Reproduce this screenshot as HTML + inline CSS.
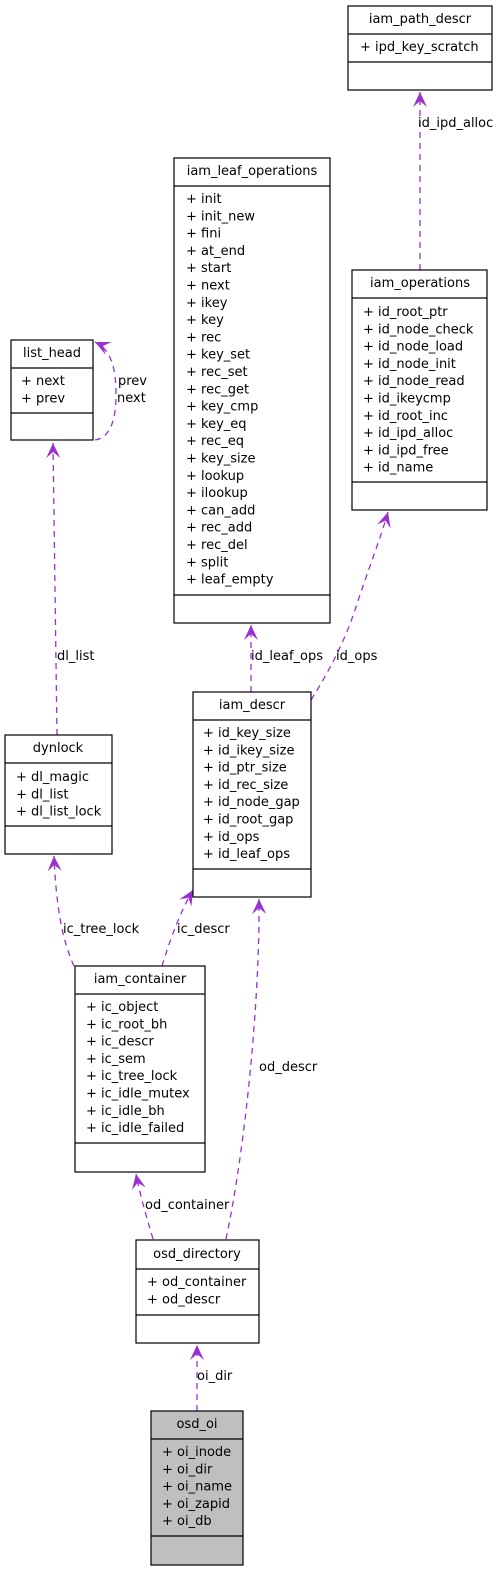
<!DOCTYPE html>
<html><head><meta charset="utf-8"><style>
html,body{margin:0;padding:0;background:#fff}
svg{display:block}
text{font-family:"DejaVu Sans","Liberation Sans",sans-serif;font-size:13px;fill:#000}
.b{fill:#fff;stroke:#000;stroke-width:1.2}
.g{fill:#bfbfbf;stroke:#000;stroke-width:1.2}
.e{fill:none;stroke:#9a32cd;stroke-width:1.3;stroke-dasharray:6,5}
</style></head><body>
<svg width="500" height="1571" viewBox="0 0 500 1571" xmlns="http://www.w3.org/2000/svg">
<defs>
<marker id="v" markerWidth="18" markerHeight="18" refX="15" refY="8" orient="auto" markerUnits="userSpaceOnUse">
<path d="M0,1 L15,8 L0,15 L6,8 Z" fill="#9a32cd"/>
</marker>
</defs>

<path class="e" d="M420,270 L420,92" marker-end="url(#v)"/>
<text x="418" y="127">id_ipd_alloc</text>
<path class="e" d="M251,692 L251,625" marker-end="url(#v)"/>
<text x="251" y="660">id_leaf_ops</text>
<path class="e" d="M311,700 C330,670 345,640 355,610 C368,570 380,540 388,512" marker-end="url(#v)"/>
<text x="336" y="660">id_ops</text>
<path class="e" d="M95,440 C110,438 116,420 116,395 C116,370 112,350 95,342" marker-end="url(#v)"/>
<text x="118" y="385">prev</text>
<text x="117" y="402">next</text>
<path class="e" d="M57,735 L53,443" marker-end="url(#v)"/>
<text x="57" y="660">dl_list</text>
<path class="e" d="M74,966 C62,940 56,905 54,856" marker-end="url(#v)"/>
<text x="63" y="933">ic_tree_lock</text>
<path class="e" d="M162,966 C170,940 180,912 193,890" marker-end="url(#v)"/>
<text x="177" y="933">ic_descr</text>
<path class="e" d="M226,1239 C245,1150 260,1000 259,899" marker-end="url(#v)"/>
<text x="259" y="1071">od_descr</text>
<path class="e" d="M153,1239 C146,1215 140,1195 136,1174" marker-end="url(#v)"/>
<text x="145" y="1209">od_container</text>
<path class="e" d="M197,1411 L197,1345" marker-end="url(#v)"/>
<text x="197" y="1380">oi_dir</text>

<rect class="b" x="348" y="6" width="144" height="84"/>
<line x1="348" y1="34" x2="492" y2="34" stroke="#000" stroke-width="1.2"/>
<line x1="348" y1="62" x2="492" y2="62" stroke="#000" stroke-width="1.2"/>
<text x="420" y="23" text-anchor="middle">iam_path_descr</text>
<text x="360" y="51">+ ipd_key_scratch</text>

<rect class="b" x="174" y="158" width="156" height="465"/>
<line x1="174" y1="186" x2="330" y2="186" stroke="#000" stroke-width="1.2"/>
<line x1="174" y1="595" x2="330" y2="595" stroke="#000" stroke-width="1.2"/>
<text x="252" y="175" text-anchor="middle">iam_leaf_operations</text>
<g transform="translate(186,0)">
<text y="203">+ init</text>
<text y="220.3">+ init_new</text>
<text y="237.6">+ fini</text>
<text y="254.9">+ at_end</text>
<text y="272.2">+ start</text>
<text y="289.5">+ next</text>
<text y="306.8">+ ikey</text>
<text y="324.1">+ key</text>
<text y="341.4">+ rec</text>
<text y="358.7">+ key_set</text>
<text y="376">+ rec_set</text>
<text y="393.3">+ rec_get</text>
<text y="410.6">+ key_cmp</text>
<text y="427.9">+ key_eq</text>
<text y="445.2">+ rec_eq</text>
<text y="462.5">+ key_size</text>
<text y="479.8">+ lookup</text>
<text y="497.1">+ ilookup</text>
<text y="514.4">+ can_add</text>
<text y="531.7">+ rec_add</text>
<text y="549">+ rec_del</text>
<text y="566.3">+ split</text>
<text y="583.6">+ leaf_empty</text>
</g>

<rect class="b" x="352" y="270" width="135" height="240"/>
<line x1="352" y1="298" x2="487" y2="298" stroke="#000" stroke-width="1.2"/>
<line x1="352" y1="482" x2="487" y2="482" stroke="#000" stroke-width="1.2"/>
<text x="420" y="287" text-anchor="middle">iam_operations</text>
<g transform="translate(363,0)">
<text y="316">+ id_root_ptr</text>
<text y="333.3">+ id_node_check</text>
<text y="350.6">+ id_node_load</text>
<text y="367.9">+ id_node_init</text>
<text y="385.2">+ id_node_read</text>
<text y="402.5">+ id_ikeycmp</text>
<text y="419.8">+ id_root_inc</text>
<text y="437.1">+ id_ipd_alloc</text>
<text y="454.4">+ id_ipd_free</text>
<text y="471.7">+ id_name</text>
</g>

<rect class="b" x="11" y="340" width="82" height="100"/>
<line x1="11" y1="368" x2="93" y2="368" stroke="#000" stroke-width="1.2"/>
<line x1="11" y1="413" x2="93" y2="413" stroke="#000" stroke-width="1.2"/>
<text x="52" y="357" text-anchor="middle">list_head</text>
<text x="21" y="385">+ next</text>
<text x="21" y="402.3">+ prev</text>

<rect class="b" x="5" y="735" width="107" height="119"/>
<line x1="5" y1="763" x2="112" y2="763" stroke="#000" stroke-width="1.2"/>
<line x1="5" y1="826" x2="112" y2="826" stroke="#000" stroke-width="1.2"/>
<text x="58" y="752" text-anchor="middle">dynlock</text>
<text x="16" y="781">+ dl_magic</text>
<text x="16" y="798.3">+ dl_list</text>
<text x="16" y="815.6">+ dl_list_lock</text>

<rect class="b" x="193" y="692" width="118" height="205"/>
<line x1="193" y1="720" x2="311" y2="720" stroke="#000" stroke-width="1.2"/>
<line x1="193" y1="869" x2="311" y2="869" stroke="#000" stroke-width="1.2"/>
<text x="252" y="709" text-anchor="middle">iam_descr</text>
<g transform="translate(203,0)">
<text y="737">+ id_key_size</text>
<text y="754.3">+ id_ikey_size</text>
<text y="771.6">+ id_ptr_size</text>
<text y="788.9">+ id_rec_size</text>
<text y="806.2">+ id_node_gap</text>
<text y="823.5">+ id_root_gap</text>
<text y="840.8">+ id_ops</text>
<text y="858.1">+ id_leaf_ops</text>
</g>

<rect class="b" x="75" y="966" width="130" height="206"/>
<line x1="75" y1="994" x2="205" y2="994" stroke="#000" stroke-width="1.2"/>
<line x1="75" y1="1143" x2="205" y2="1143" stroke="#000" stroke-width="1.2"/>
<text x="140" y="983" text-anchor="middle">iam_container</text>
<g transform="translate(86,0)">
<text y="1011">+ ic_object</text>
<text y="1028.3">+ ic_root_bh</text>
<text y="1045.6">+ ic_descr</text>
<text y="1062.9">+ ic_sem</text>
<text y="1080.2">+ ic_tree_lock</text>
<text y="1097.5">+ ic_idle_mutex</text>
<text y="1114.8">+ ic_idle_bh</text>
<text y="1132.1">+ ic_idle_failed</text>
</g>

<rect class="b" x="136" y="1240" width="123" height="103"/>
<line x1="136" y1="1269" x2="259" y2="1269" stroke="#000" stroke-width="1.2"/>
<line x1="136" y1="1315" x2="259" y2="1315" stroke="#000" stroke-width="1.2"/>
<text x="197" y="1258" text-anchor="middle">osd_directory</text>
<text x="147" y="1286">+ od_container</text>
<text x="147" y="1303.3">+ od_descr</text>

<rect class="g" x="151" y="1411" width="92" height="154"/>
<line x1="151" y1="1439" x2="243" y2="1439" stroke="#000" stroke-width="1.2"/>
<line x1="151" y1="1536" x2="243" y2="1536" stroke="#000" stroke-width="1.2"/>
<text x="197" y="1428" text-anchor="middle">osd_oi</text>
<g transform="translate(162,0)">
<text y="1456">+ oi_inode</text>
<text y="1473.3">+ oi_dir</text>
<text y="1490.6">+ oi_name</text>
<text y="1507.9">+ oi_zapid</text>
<text y="1525.2">+ oi_db</text>
</g>
</svg>
</body></html>
